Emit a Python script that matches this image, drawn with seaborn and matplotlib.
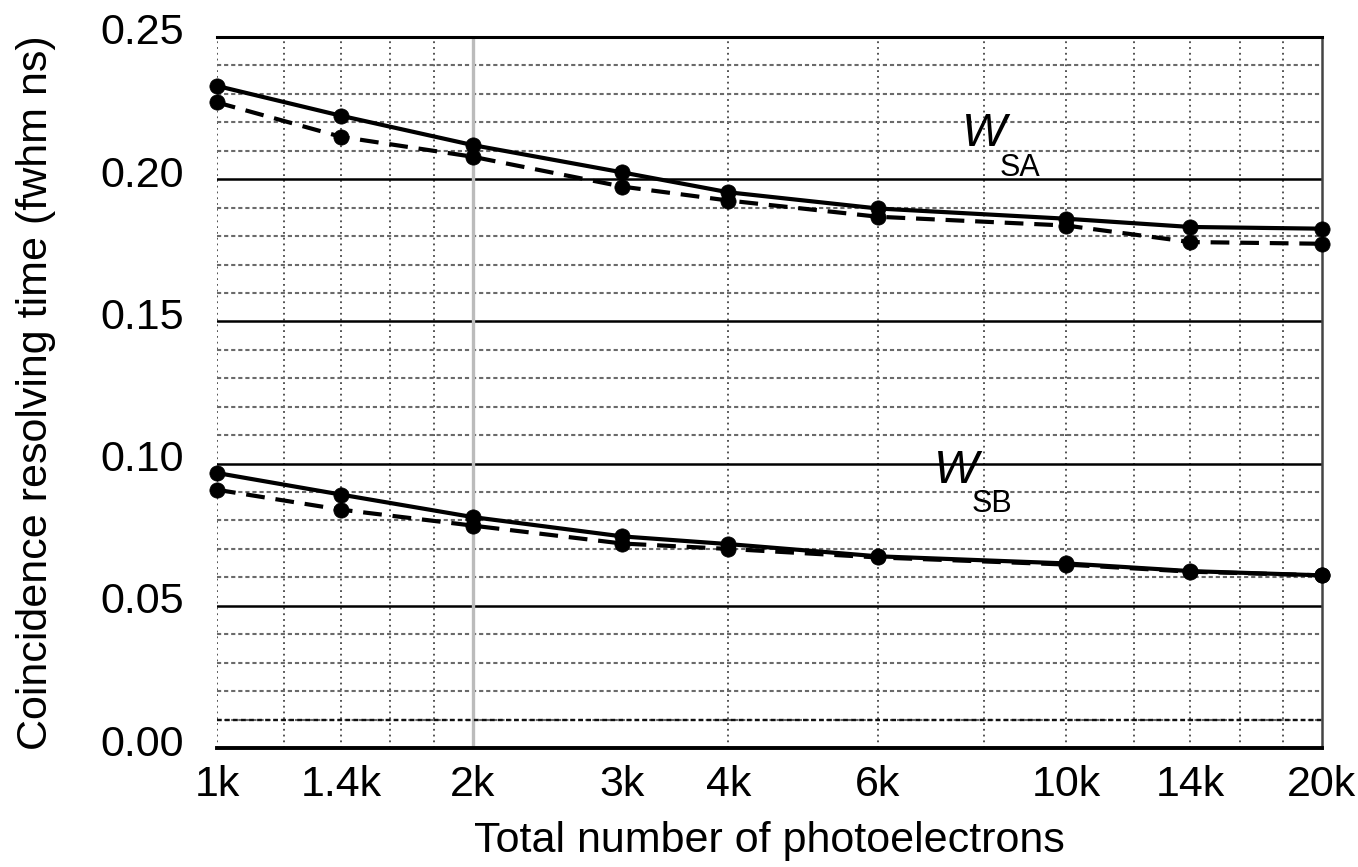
import matplotlib
matplotlib.use("Agg")
import matplotlib.pyplot as plt
from matplotlib.ticker import MultipleLocator, FixedLocator, NullFormatter, FixedFormatter
from matplotlib.transforms import ScaledTranslation
import seaborn as sns
import pandas as pd

# ---- data ----
n_photo = [1000, 1400, 2000, 3000, 4000, 6000, 10000, 14000, 20000]
sa_solid = [0.2328, 0.2223, 0.2120, 0.2024, 0.1954, 0.1897, 0.1861, 0.1832, 0.1826]
sa_dashed = [0.2270, 0.2149, 0.2079, 0.1974, 0.1925, 0.1868, 0.1837, 0.1779, 0.1773]
sb_solid = [0.0967, 0.0891, 0.0812, 0.0744, 0.0717, 0.0674, 0.0649, 0.0622, 0.0607]
sb_dashed = [0.0908, 0.0838, 0.0782, 0.0719, 0.0700, 0.0670, 0.0645, 0.0620, 0.0607]

x_tick_values = [1000, 1400, 2000, 3000, 4000, 6000, 10000, 14000, 20000]
x_tick_labels = ["1k", "1.4k", "2k", "3k", "4k", "6k", "10k", "14k", "20k"]
x_grid_values = [1000, 1200, 1400, 1600, 1800, 4000, 6000, 8000, 10000,
                 12000, 14000, 16000, 18000]

sns.set_theme(style="white")
plt.rcParams["font.family"] = ["Liberation Sans", "DejaVu Sans"]
for key in ["text.color", "axes.labelcolor", "xtick.color", "ytick.color"]:
    plt.rcParams[key] = "black"

fig = plt.figure(figsize=(13.58, 8.67), dpi=100)
ax = fig.add_axes([217 / 1358, 1 - 748 / 867, (1322 - 217) / 1358, (748 - 37) / 867])

dash = (0, (4.5, 2.6))
series = [
    (sa_solid, "-"),
    (sa_dashed, dash),
    (sb_solid, "-"),
    (sb_dashed, dash),
]
for vals, ls in series:
    df = pd.DataFrame({"n": n_photo, "t": vals})
    sns.lineplot(data=df, x="n", y="t", ax=ax, color="black", linestyle=ls,
                 linewidth=3.0, marker="o", markersize=11,
                 markeredgecolor="black", markerfacecolor="black",
                 markeredgewidth=0.5, clip_on=False, zorder=5)

ax.set_xscale("log")
ax.set_xlim(1000, 20000)
ax.set_ylim(0, 0.25)

# x ticks & grid
ax.xaxis.remove_overlapping_locs = False
ax.xaxis.set_major_locator(FixedLocator(x_tick_values))
ax.xaxis.set_major_formatter(FixedFormatter(x_tick_labels))
ax.xaxis.set_minor_locator(FixedLocator(x_grid_values))
ax.xaxis.set_minor_formatter(NullFormatter())
ax.grid(which="minor", axis="x", color="#444444", linestyle=(0, (1, 2.2)), linewidth=1.3)
ax.grid(which="major", axis="x", visible=False)
ax.axvline(2000, color="#bbbbbb", linewidth=2.4, zorder=1)

# y ticks & grid (minor lines at the major positions are dropped)
ax.yaxis.set_major_locator(MultipleLocator(0.05))
ax.yaxis.set_minor_locator(MultipleLocator(0.01))
ax.yaxis.set_major_formatter(plt.FormatStrFormatter("%.2f"))
ax.grid(which="minor", axis="y", color="#6a6a6a", linestyle=(0, (2, 1.4)), linewidth=1.5)
ax.grid(which="major", axis="y", color="black", linestyle="-", linewidth=1.8)
ax.axhline(0.01, color="#111111", linestyle=(0, (2, 1.4)), linewidth=1.7, zorder=1)

ax.tick_params(axis="both", which="both", length=0)
ax.tick_params(axis="x", labelsize=31, pad=12)
ax.tick_params(axis="y", labelsize=31, pad=24)

for side in ["top", "bottom", "right"]:
    ax.spines[side].set_visible(True)
    ax.spines[side].set_color("black")
ax.spines["top"].set_linewidth(2.2)
ax.spines["bottom"].set_linewidth(2.8)
ax.spines["right"].set_linewidth(1.8)
ax.spines["right"].set_color("#444444")
ax.spines["left"].set_visible(False)

ax.set_xlabel("Total number of photoelectrons", fontsize=31)
ax.set_ylabel("Coincidence resolving time (fwhm ns)", fontsize=31)
ax.xaxis.set_label_coords(0.5, -0.103)
ax.yaxis.set_label_coords(-0.146, 0.5)

# annotations
ax.text(0.694, 0.8636, "W", transform=ax.transAxes, fontsize=34, style="italic",
        ha="center", va="center", color="black")
ax.text(0.7267, 0.8157, "SA", transform=ax.transAxes, fontsize=22,
        ha="center", va="center", color="black")
ax.text(0.669, 0.3896, "W", transform=ax.transAxes, fontsize=34, style="italic",
        ha="center", va="center", color="black")
ax.text(0.7014, 0.3432, "SB", transform=ax.transAxes, fontsize=22,
        ha="center", va="center", color="black")

# lift y tick labels slightly, as in the reference
offset = ScaledTranslation(0, 8 / 100, fig.dpi_scale_trans)
for lbl in ax.get_yticklabels():
    lbl.set_transform(lbl.get_transform() + offset)

fig.savefig("out.png", dpi=100, facecolor="white")
